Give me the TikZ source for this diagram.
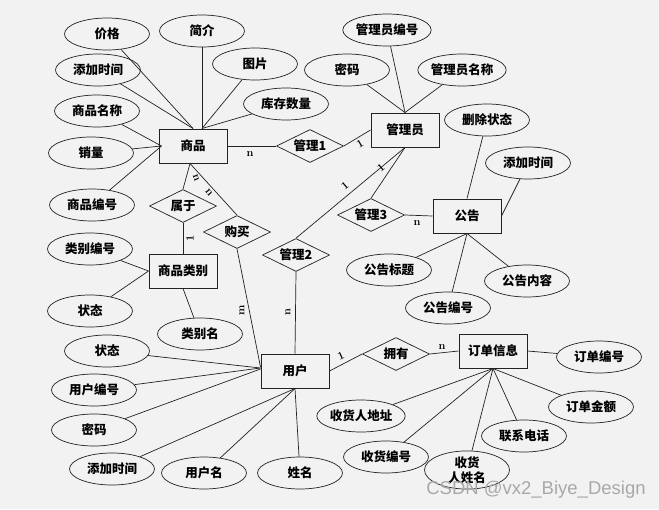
\documentclass[tikz,border=0pt]{standalone}
\usepackage{fontspec}
\newfontfamily\cjk{Noto Sans CJK SC}
\setsansfont{Liberation Sans}
\usetikzlibrary{shapes.geometric}
\definecolor{bgc}{HTML}{F2F2F2}
\definecolor{lnc}{HTML}{222222}
\definecolor{wmc}{HTML}{A8A8A8}
\tikzset{
  attr/.style={ellipse,draw=lnc,line width=0.7pt,minimum width=85pt,minimum height=32pt,inner sep=0pt,font=\cjk\bfseries\fontsize{12.5}{15}\selectfont},
  ent/.style={rectangle,draw=lnc,line width=1pt,minimum width=68pt,minimum height=34pt,inner sep=0pt,font=\cjk\bfseries\fontsize{12.5}{15}\selectfont},
  rel/.style={diamond,aspect=2,draw=lnc,line width=0.7pt,minimum width=67pt,minimum height=33pt,inner sep=0pt,font=\cjk\bfseries\fontsize{12.5}{15}\selectfont},
  lnk/.style={draw=lnc,line width=0.7pt},
  card/.style={font=\bfseries\fontsize{11}{12}\selectfont,inner sep=0pt}
}
\begin{document}
\begin{tikzpicture}[x=1pt,y=-1pt]
\fill[bgc] (0,0) rectangle (659,509);
\useasboundingbox (0,0) rectangle (659,509);
% entities
\node[ent] (sp) at (193,146) {商品};
\node[ent] (lb) at (183,271) {商品类别};
\node[ent] (yh) at (295,371) {用户};
\node[ent] (gly) at (405,130) {管理员};
\node[ent] (gg) at (467,216) {公告};
\node[ent] (dd) at (493,351) {订单信息};
% relations
\node[rel] (gl1) at (310,146) {管理1};
\node[rel] (sy) at (183,206) {属于};
\node[rel] (gm) at (237,232) {购买};
\node[rel] (gl2) at (296,255) {管理2};
\node[rel] (gl3) at (371,215) {管理3};
\node[rel] (yy) at (396,354) {拥有};
% attributes
\node[attr] (jg) at (107,34) {价格};
\node[attr] (jj) at (202,31) {简介};
\node[attr] (tp) at (255,64) {图片};
\node[attr] (tj1) at (98,70) {添加时间};
\node[attr] (kc) at (286,104) {库存数量};
\node[attr] (spmc) at (97,111) {商品名称};
\node[attr] (xl) at (91,153) {销量};
\node[attr] (spbh) at (92,205) {商品编号};
\node[attr] (lbbh) at (90,249) {类别编号};
\node[attr] (zt1) at (90,311) {状态};
\node[attr] (lbm) at (200,334) {类别名};
\node[attr] (zt2) at (107,351) {状态};
\node[attr] (yhbh) at (94,390) {用户编号};
\node[attr] (mm2) at (94,430) {密码};
\node[attr] (tj3) at (112,469) {添加时间};
\node[attr] (yhm) at (204,473) {用户名};
\node[attr] (xm) at (300,473) {姓名};
\node[attr] (glybh) at (387,30) {管理员编号};
\node[attr] (mm1) at (347,70) {密码};
\node[attr] (glymc) at (462,70) {管理员名称};
\node[attr] (sczt) at (487,120) {删除状态};
\node[attr] (tj2) at (528,163) {添加时间};
\node[attr] (ggbt) at (389,270) {公告标题};
\node[attr] (ggnr) at (527,281) {公告内容};
\node[attr] (ggbh) at (448,308) {公告编号};
\node[attr] (ddbh) at (599,357) {订单编号};
\node[attr] (ddje) at (591,407) {订单金额};
\node[attr] (lxdh) at (524,436) {联系电话};
\node[attr] (shdz) at (361,416) {收货人地址};
\node[attr] (shbh) at (386,457) {收货编号};
\node[attr,align=center] (shxm) at (467,470) {收货\\人姓名};
% goods attributes
\draw[lnk] (jg) -- (sp.north);
\draw[lnk] (tj1) -- (sp.north);
\draw[lnk] (jj) -- ([xshift=9pt]sp.north);
\draw[lnk] (tp) -- ([xshift=9pt]sp.north);
\draw[lnk] (kc) -- ([xshift=9pt]sp.north);
\draw[lnk] (spmc) -- ([xshift=3pt]sp.west);
\draw[lnk] (xl) -- ([xshift=3pt]sp.west);
\draw[lnk] (spbh) -- ([xshift=3pt]sp.west);
% relations
\draw[lnk] (sp.east) -- (gl1.west);
\draw[lnk] (gl1.east) -- (gly.west);
\draw[lnk] ([xshift=-3pt]sp.south) -- (sy.north);
\draw[lnk] ([xshift=-3pt]sp.south) -- (gm.north);
\draw[lnk] (sy.south) -- (lb.north);
\draw[lnk] (gm.south) -- ([yshift=4pt]yh.west);
\draw[lnk] (gl2.south) -- (yh.north);
\draw[lnk] (gly.south) -- (gl2.north);
\draw[lnk] (gly.south) -- (gl3.north);
\draw[lnk] (gl3.east) -- (gg.west);
\draw[lnk] (yh.east) -- (yy.west);
\draw[lnk] (yy.east) -- (dd.west);
% category attributes
\draw[lnk] (lbbh) -- (lb.west);
\draw[lnk] (zt1) -- (lb.west);
\draw[lnk] (lbm) -- (lb.south);
% user attributes
\draw[lnk] (zt2) -- ([yshift=3pt]yh.west);
\draw[lnk] (yhbh) -- ([yshift=3pt]yh.west);
\draw[lnk] (mm2) -- ([yshift=2pt]yh.west);
\draw[lnk] (tj3) -- (yh.south);
\draw[lnk] (yhm) -- (yh.south);
\draw[lnk] (xm) -- (yh.south);
% admin attributes
\draw[lnk] (glybh) -- (gly.north);
\draw[lnk] (mm1) -- (gly.north);
\draw[lnk] (glymc) -- (gly.north);
% notice attributes
\draw[lnk] (sczt) -- (gg.north);
\draw[lnk] (tj2) -- (gg.east);
\draw[lnk] (ggbt) -- (gg.south);
\draw[lnk] (ggnr) -- (gg.south);
\draw[lnk] (ggbh) -- (gg.south);
% order attributes
\draw[lnk] (ddbh) -- (dd.east);
\draw[lnk] (ddje) -- (dd.south);
\draw[lnk] (lxdh) -- (dd.south);
\draw[lnk] (shxm) -- (dd.south);
\draw[lnk] (shbh) -- (dd.south);
\draw[lnk] (shdz) -- (dd.south);
% cardinalities
\node[card] (c1) at (250,154) {n};
\node[card,rotate=30] (c2) at (360,144) {1};
\node[card,rotate=40] (c3) at (345,186) {1};
\node[card,rotate=40] (c4) at (381,168) {1};
\node[card,rotate=-70] (c5) at (196,178) {n};
\node[card,rotate=-50] (c6) at (209,193) {n};
\node[card,rotate=90] (c7) at (190,238) {1};
\node[card,rotate=90] (c8) at (242,310) {m};
\node[card,rotate=90] (c9) at (288,312) {n};
\node[card] (c10) at (417,223) {n};
\node[card,rotate=25] (c11) at (341,356) {1};
\node[card] (c12) at (442,347) {n};
% watermark
\node[font=\sffamily\fontsize{18.5}{20}\selectfont,text=wmc,inner sep=0pt] (wm) at (536,490) {CSDN @vx2\_Biye\_Design};
\end{tikzpicture}
\end{document}
